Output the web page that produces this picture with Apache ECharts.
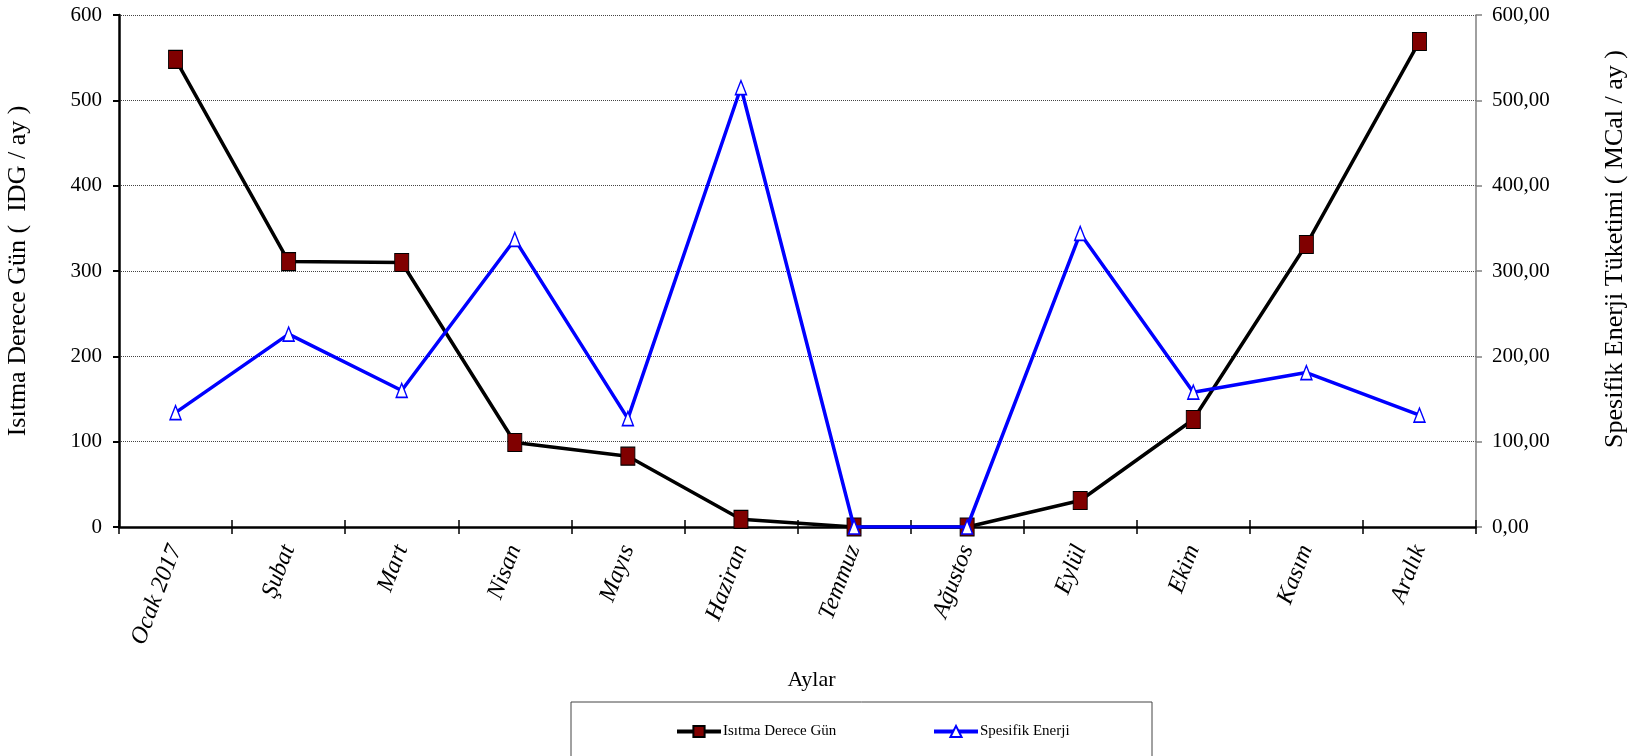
<!DOCTYPE html>
<html>
<head>
<meta charset="utf-8">
<script src="https://cdn.jsdelivr.net/npm/echarts@6/dist/echarts.min.js"></script>
<style>
  html, body { margin: 0; padding: 0; background: #fff; }
  #chart { width: 1642px; height: 756px; }
</style>
</head>
<body>
<div id="chart"></div>
<script>
// Months of 2017
const months = ['Ocak 2017', 'Şubat', 'Mart', 'Nisan', 'Mayıs', 'Haziran', 'Temmuz', 'Ağustos', 'Eylül', 'Ekim', 'Kasım', 'Aralık'];
// Heating degree days per month (IDG / ay)
const derecegun = [548, 311, 310, 99, 83, 9, 0, 0, 31, 126, 331, 569];
// Specific energy consumption per month (MCal / ay)
const spesifikEnerji = [134, 226, 160, 337, 127, 515, 0, 0, 344, 158, 181, 131];
// Axis tick labels
const leftTicks = ['0', '100', '200', '300', '400', '500', '600'];
const rightTicks = ['0,00', '100,00', '200,00', '300,00', '400,00', '500,00', '600,00'];

const serif = "'Liberation Serif', 'Times New Roman', serif";
const chart = echarts.init(document.getElementById('chart'));

const gridLine = { show: true, lineStyle: { color: '#444', type: 'dotted', width: 1 } };

const legendBase = {
  top: 719,
  itemWidth: 44, itemHeight: 14, itemGap: 0,
  lineStyle: { width: 4 },
  textStyle: { fontFamily: serif, fontSize: 15, color: '#000', padding: [0, 0, 0, -3] }
};

chart.setOption({
  animation: false,
  backgroundColor: '#fff',
  textStyle: { fontFamily: serif, color: '#000' },
  grid: { left: 119, right: 166, top: 15, bottom: 229, containLabel: false, outerBoundsMode: 'none' },
  graphic: [{
    type: 'rect',
    shape: { x: 571, y: 702, width: 581, height: 70 },
    style: { fill: '#fff', stroke: '#444', lineWidth: 1 },
    z: -1
  }],
  legend: [
    Object.assign({}, legendBase, { data: ['Isıtma Derece Gün'], left: 670 }),
    Object.assign({}, legendBase, { data: ['Spesifik Enerji'], left: 927 })
  ],
  xAxis: [
    {
      type: 'category',
      data: months,
      boundaryGap: true,
      position: 'bottom',
      name: 'Aylar',
      nameLocation: 'middle',
      nameGap: 142,
      nameTextStyle: { fontFamily: serif, fontSize: 22, color: '#000', padding: [0, 0, 0, 28] },
      axisLine: { show: true, onZero: false, lineStyle: { color: '#000', width: 2.5 } },
      axisTick: { show: true, inside: false, length: 7, lineStyle: { color: '#000', width: 1.5 } },
      axisLabel: {
        rotate: 69,
        margin: 19,
        interval: 0,
        fontFamily: serif,
        fontStyle: 'italic',
        fontSize: 24,
        color: '#000'
      },
      splitLine: { show: false }
    },
    {
      type: 'category',
      data: months,
      boundaryGap: true,
      position: 'bottom',
      axisLine: { show: false },
      axisTick: { show: true, inside: true, length: 7, lineStyle: { color: '#000', width: 1.5 } },
      axisLabel: { show: false },
      splitLine: { show: false }
    }
  ],
  yAxis: [
    {
      type: 'value',
      min: 0, max: 600, interval: 100,
      position: 'left',
      name: 'Isıtma Derece Gün (  IDG / ay )',
      nameLocation: 'middle',
      nameRotate: 90,
      nameGap: 88,
      nameTextStyle: { fontFamily: serif, fontSize: 26, color: '#000' },
      axisLine: { show: true, lineStyle: { color: '#000', width: 2.5 } },
      axisTick: { show: true, inside: false, length: 6, lineStyle: { color: '#000', width: 2 } },
      axisLabel: {
        margin: 17,
        fontFamily: serif, fontSize: 21, color: '#000',
        formatter: v => leftTicks[Math.round(v / 100)]
      },
      splitLine: gridLine
    },
    {
      type: 'value',
      min: 0, max: 600, interval: 100,
      position: 'right',
      name: 'Spesifik Enerji Tüketimi ( MCal / ay )',
      nameLocation: 'middle',
      nameRotate: 90,
      nameGap: 126,
      nameTextStyle: { fontFamily: serif, fontSize: 26, color: '#000', padding: [0, 0, 0, 44] },
      axisLine: { show: true, lineStyle: { color: '#808080', width: 1.5 } },
      axisTick: { show: true, inside: false, length: 6, lineStyle: { color: '#808080', width: 1.5 } },
      axisLabel: {
        margin: 16,
        fontFamily: serif, fontSize: 21, color: '#000',
        formatter: v => rightTicks[Math.round(v / 100)]
      },
      splitLine: { show: false }
    }
  ],
  series: [
    {
      name: 'Isıtma Derece Gün',
      type: 'line',
      xAxisIndex: 0,
      yAxisIndex: 0,
      data: derecegun,
      symbol: 'rect',
      symbolSize: [14, 18],
      showAllSymbol: true,
      lineStyle: { color: '#000', width: 3.5 },
      itemStyle: { color: '#800000', borderColor: '#000', borderWidth: 1 },
      z: 3
    },
    {
      name: 'Spesifik Enerji',
      type: 'line',
      xAxisIndex: 0,
      yAxisIndex: 1,
      data: spesifikEnerji,
      symbol: 'triangle',
      symbolSize: [11, 14],
      showAllSymbol: true,
      lineStyle: { color: '#0000ff', width: 3.5 },
      itemStyle: { color: '#ffffff', borderColor: '#0000ff', borderWidth: 1.5 },
      z: 4
    }
  ]
});
</script>
</body>
</html>
